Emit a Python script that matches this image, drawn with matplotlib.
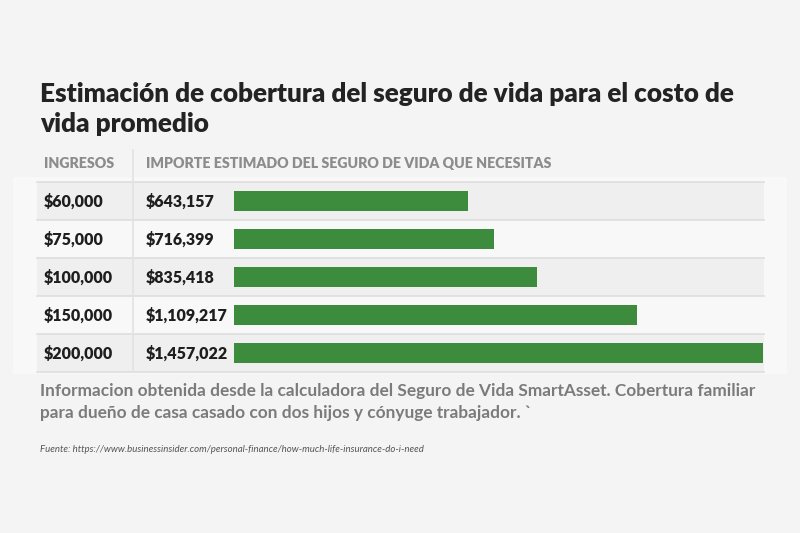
import matplotlib
matplotlib.use("Agg")
import matplotlib.pyplot as plt

# data
ingresos = ["$60,000", "$75,000", "$100,000", "$150,000", "$200,000"]
seguro = [643157, 716399, 835418, 1109217, 1457022]
seguro_labels = ["$643,157", "$716,399", "$835,418", "$1,109,217", "$1,457,022"]

titulo = "Estimación de cobertura del seguro de vida para el costo de\nvida promedio"
col1 = "INGRESOS"
col2 = "IMPORTE ESTIMADO DEL SEGURO DE VIDA QUE NECESITAS"
nota = ("Informacion obtenida desde la calculadora del Seguro de Vida SmartAsset. Cobertura familiar\n"
        "para dueño de casa casado con dos hijos y cónyuge trabajador. `")
fuente = "Fuente: https://www.businessinsider.com/personal-finance/how-much-life-insurance-do-i-need"

W, H = 800, 533
fig = plt.figure(figsize=(8, 5.33), dpi=100, facecolor="#f4f4f4")

# background axes in pixel coords
bg = fig.add_axes([0, 0, 1, 1])
bg.set_xlim(0, W)
bg.set_ylim(H, 0)
bg.axis("off")

top, row_h = 182, 38
n = len(ingresos)
bg.add_patch(plt.Rectangle((13, 177), 774, 197, color="#f8f8f8", lw=0, zorder=0))
for i in range(n):
    y0 = top + i * row_h
    c = "#efefef" if i % 2 == 0 else "#f8f8f8"
    bg.add_patch(plt.Rectangle((37, y0), 727, row_h, color=c, lw=0, zorder=1))
    bg.plot([37, 764], [y0, y0], color="#dedede", lw=1.2, zorder=2)
bg.plot([37, 764], [top + n * row_h, top + n * row_h], color="#dedede", lw=1.2, zorder=2)
bg.plot([133, 133], [150, top + n * row_h], color="#e2e2e2", lw=1.2, zorder=2)

bg.text(40, 109, titulo, fontsize=18.8, fontweight="heavy", color="#232323",
        family="Lato", va="center", linespacing=1.32)
bg.text(44, 163, col1, fontsize=10.2, fontweight="heavy", color="#8c8c8c", family="Lato", va="center")
bg.text(146, 163, col2, fontsize=10.2, fontweight="heavy", color="#8c8c8c", family="Lato", va="center")

for i in range(n):
    yc = top + i * row_h + row_h / 2 + 1
    bg.text(44, yc, ingresos[i], fontsize=11.5, fontweight="heavy", color="#1e1e1e", family="Lato", va="center")
    bg.text(146, yc, seguro_labels[i], fontsize=11.5, fontweight="heavy", color="#1e1e1e", family="Lato", va="center")

bg.text(40, 402, nota, fontsize=12.4, fontweight="bold", color="#7b7b7b", family="Lato",
        va="center", linespacing=1.4)
bg.text(40, 450, fuente, fontsize=6.9, style="italic", color="#555555", family="Lato", va="center")

# bar axes
ax = fig.add_axes([234 / W, (H - (top + n * row_h)) / H, 531 / W, n * row_h / H])
ax.set_xlim(0, max(seguro) * 531 / 529)
ax.set_ylim(n - 0.5, -0.5)
ax.barh(range(n), seguro, height=0.54, color="#3d8c3d", zorder=3)
ax.axis("off")

fig.savefig("out.png", dpi=100, facecolor=fig.get_facecolor())
